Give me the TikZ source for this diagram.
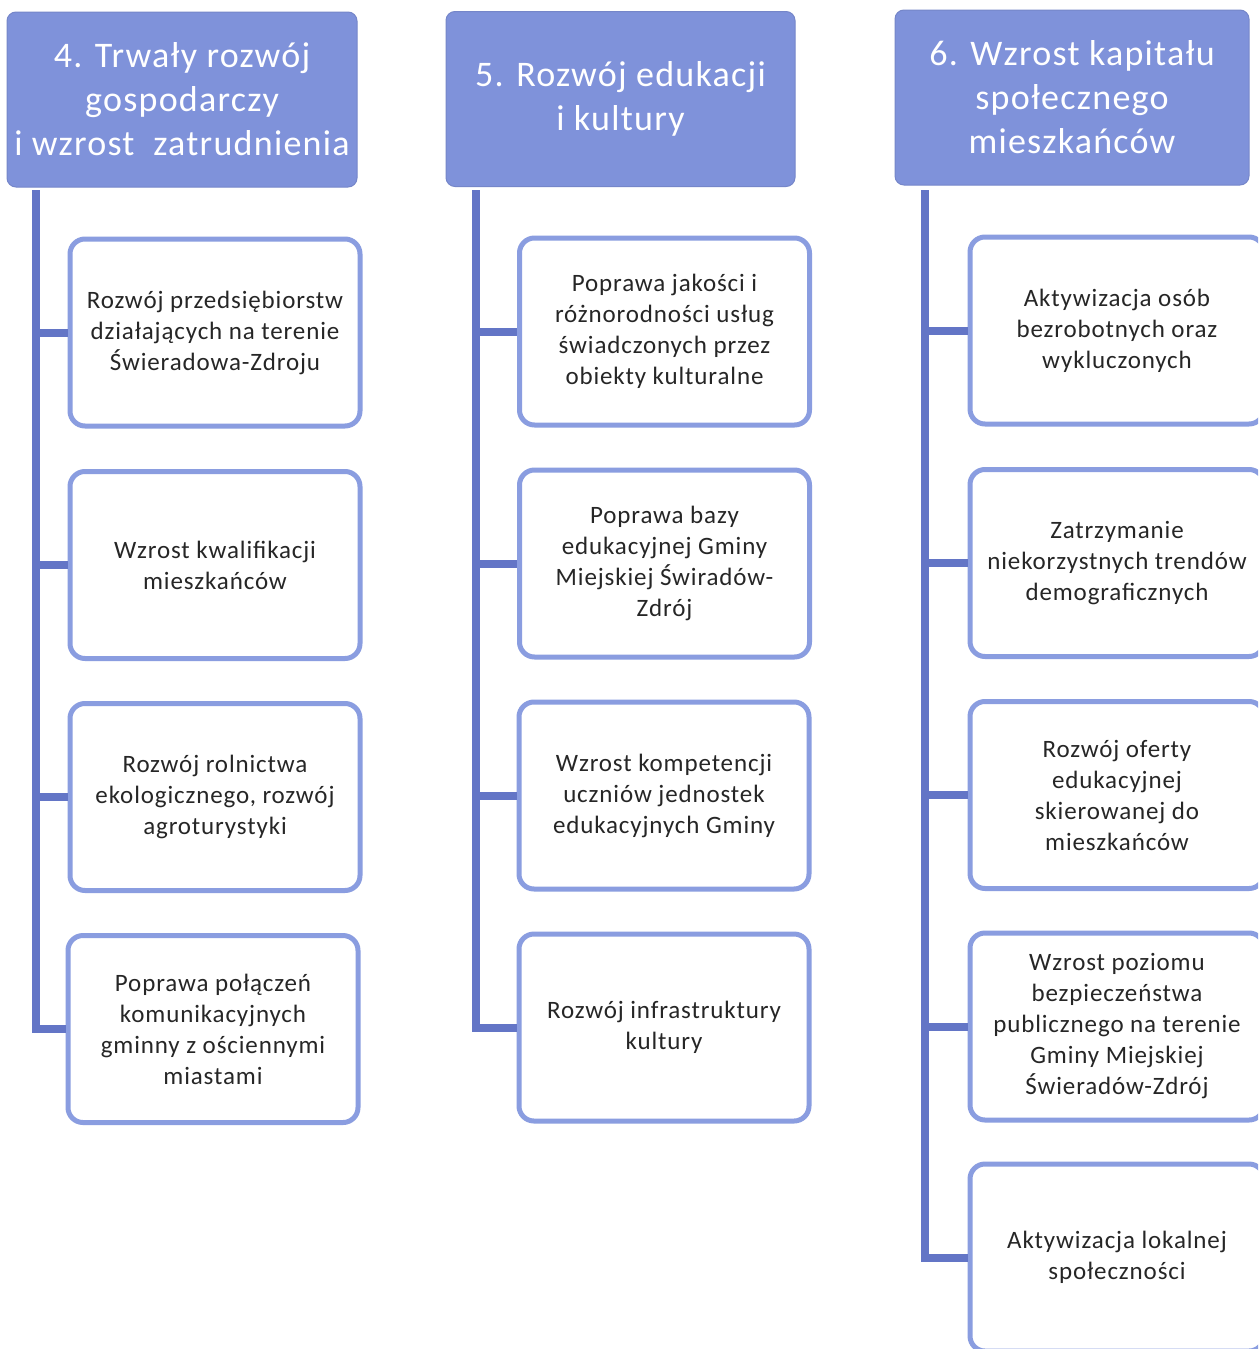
\documentclass[tikz,border=0pt]{standalone}
\usepackage{fontspec}
\setmainfont{Carlito}[LetterSpace=3.5]
\begin{document}
\begin{tikzpicture}[x=1pt,y=-1pt,
  hdr/.style={fill=hdrfill, draw=hdrfill!92!black, line width=1pt, rounded corners=9pt,
    text=white, align=center, font=\fontsize{36}{44}\selectfont, inner sep=0pt,
    minimum width=350pt, minimum height=175pt},
  sub/.style={draw=boxline, line width=5pt, rounded corners=15pt, fill=white,
    text=txt, align=center, font=\fontsize{25}{31}\selectfont, inner sep=0pt,
    minimum width=290pt, minimum height=187pt},
  conn/.style={draw=connc, line width=8pt, line join=miter}]
\definecolor{hdrfill}{HTML}{7F92DA}
\definecolor{boxline}{HTML}{8A9DE0}
\definecolor{connc}{HTML}{6375C6}
\definecolor{txt}{HTML}{262626}
\useasboundingbox (0,0) rectangle (1258,1349);
\clip (0,0) rectangle (1258,1349);
\fill[white] (0,0) rectangle (1258,1349);

% headers
\node[hdr] (h1) at (182,99.5) {4. Trwały rozwój\\gospodarczy\\i wzrost\ \ zatrudnienia};
\node[hdr, minimum width=349pt] (h2) at (620.5,99) {5. Rozwój edukacji\\i kultury};
\node[hdr, minimum width=354pt] (h3) at (1072,97.5) {6. Wzrost kapitału\\społecznego\\mieszkańców};

% trunk start points
\coordinate (t1) at (36,190);
\coordinate (t2) at (476,190);
\coordinate (t3) at (925,190);

% column 1
\node[sub] (b11) at (215,332.5) {Rozwój przedsiębiorstw\\działających na terenie\\Świeradowa-Zdroju};
\node[sub] (b12) at (215,565) {Wzrost kwalifikacji\\mieszkańców};
\node[sub] (b13) at (215,797) {Rozwój rolnictwa\\ekologicznego, rozwój\\agroturystyki};
\node[sub] (b14) at (213,1029) {Poprawa połączeń\\komunikacyjnych\\gminny z ościennymi\\miastami};

% column 2
\node[sub] (b21) at (664.5,331.5) {Poprawa jakości i\\różnorodności usług\\świadczonych przez\\obiekty kulturalne};
\node[sub] (b22) at (664.5,563.5) {Poprawa bazy\\edukacyjnej Gminy\\Miejskiej Świradów-\\Zdrój};
\node[sub] (b23) at (664,795.5) {Wzrost kompetencji\\uczniów jednostek\\edukacyjnych Gminy};
\node[sub] (b24) at (664,1027.5) {Rozwój infrastruktury\\kultury};

% column 3
\node[sub, minimum width=294pt] (b31) at (1117,330.5) {Aktywizacja osób\\bezrobotnych oraz\\wykluczonych};
\node[sub, minimum width=294pt] (b32) at (1117,563) {Zatrzymanie\\niekorzystnych trendów\\demograficznych};
\node[sub, minimum width=294pt] (b33) at (1117,795) {Rozwój oferty\\edukacyjnej\\skierowanej do\\mieszkańców};
\node[sub, minimum width=294pt] (b34) at (1117,1026.5) {Wzrost poziomu\\bezpieczeństwa\\publicznego na terenie\\Gminy Miejskiej\\Świeradów-Zdrój};
\node[sub, minimum width=294pt] (b35) at (1117,1257.5) {Aktywizacja lokalnej\\społeczności};

% connectors
\draw[conn] (t1) |- (b14.west);
\draw[conn] (t1 |- b11.west) -- (b11.west);
\draw[conn] (t1 |- b12.west) -- (b12.west);
\draw[conn] (t1 |- b13.west) -- (b13.west);

\draw[conn] (t2) |- (b24.west);
\draw[conn] (t2 |- b21.west) -- (b21.west);
\draw[conn] (t2 |- b22.west) -- (b22.west);
\draw[conn] (t2 |- b23.west) -- (b23.west);

\draw[conn] (t3) |- (b35.west);
\draw[conn] (t3 |- b31.west) -- (b31.west);
\draw[conn] (t3 |- b32.west) -- (b32.west);
\draw[conn] (t3 |- b33.west) -- (b33.west);
\draw[conn] (t3 |- b34.west) -- (b34.west);
\end{tikzpicture}
\end{document}
